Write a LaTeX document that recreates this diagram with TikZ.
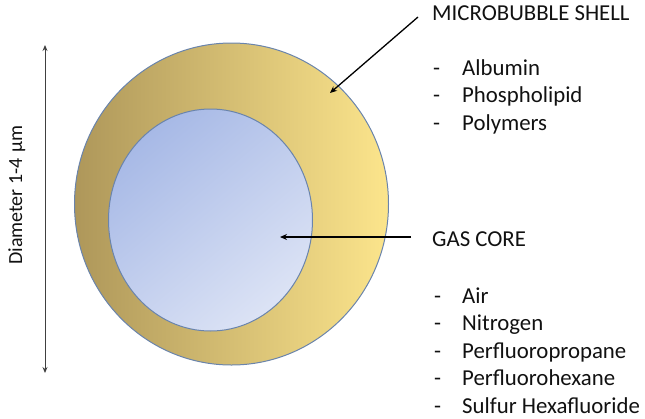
\documentclass[tikz,border=0pt]{standalone}
\usepackage{fontspec}
\setmainfont{Carlito}
\usetikzlibrary{arrows.meta}
\definecolor{shellL}{HTML}{AE975A}
\definecolor{shellR}{HTML}{FCE58C}
\definecolor{coreA}{HTML}{A7B9E6}
\definecolor{coreB}{HTML}{DCE3F5}
\definecolor{rim}{HTML}{6A84AC}
\definecolor{txt}{HTML}{111111}
\tikzset{
  lbl/.style={anchor=base west, inner sep=0pt, text=txt, font=\fontsize{22.8}{27}\selectfont},
  pointer/.style={draw=black, line width=1.3pt, -{Stealth[length=7pt,width=6pt]}},
  dim/.style={draw=black!75, line width=0.9pt, {Stealth[length=6pt,width=5pt]}-{Stealth[length=6pt,width=5pt]}}
}
\begin{document}
\begin{tikzpicture}[x=1pt,y=-1pt]
\useasboundingbox (0,0) rectangle (645,418);
% shell
\shade[left color=shellL, right color=shellR] (231.5,204) ellipse [x radius=157, y radius=161];
\draw[rim, line width=1pt] (231.5,204) ellipse [x radius=157, y radius=161];
% core
\shade[top color=coreA, bottom color=coreB, shading angle=40] (210.5,220) ellipse [x radius=102, y radius=111];
\draw[rim, line width=1pt] (210.5,220) ellipse [x radius=102, y radius=111];
% diameter
\coordinate (dtop) at (45,45);
\coordinate (dbot) at (45,373);
\draw[dim] (dtop) -- (dbot);
\node[rotate=90, anchor=base, inner sep=0pt, text=txt, font=\fontsize{20}{24}\selectfont] (diam) at (22,195) {Diameter 1-4\hspace{0.3em}μm};
% shell labels
\node[lbl] (shell) at (432,20) {MICROBUBBLE SHELL};
\node[lbl] (d1) at (433,75) {-}; \node[lbl] (s1) at (462,75) {Albumin};
\node[lbl] (d2) at (433,102.5) {-}; \node[lbl] (s2) at (462,102.5) {Phospholipid};
\node[lbl] (d3) at (433,130) {-}; \node[lbl] (s3) at (462,130) {Polymers};
% gas labels
\node[lbl] (gas) at (432,246.5) {GAS CORE};
\node[lbl] (e1) at (434,303) {-}; \node[lbl] (g1) at (462,303) {Air};
\node[lbl] (e2) at (434,330.5) {-}; \node[lbl] (g2) at (462,330.5) {Nitrogen};
\node[lbl] (e3) at (434,358) {-}; \node[lbl] (g3) at (462,358) {Perfluoropropane};
\node[lbl] (e4) at (434,385.5) {-}; \node[lbl] (g4) at (462,385.5) {Perfluorohexane};
\node[lbl, text depth=0pt] (e5) at (434,413) {-}; \node[lbl, text depth=0pt] (g5) at (462,413) {Sulfur Hexafluoride};
% pointers
\coordinate (shellfrom) at (418,17);
\coordinate (shellto) at (330,93);
\coordinate (gasfrom) at (411,237);
\coordinate (gasto) at (280,237);
\draw[pointer] (shellfrom) -- (shellto);
\draw[pointer] (gasfrom) -- (gasto);
\end{tikzpicture}
\end{document}
